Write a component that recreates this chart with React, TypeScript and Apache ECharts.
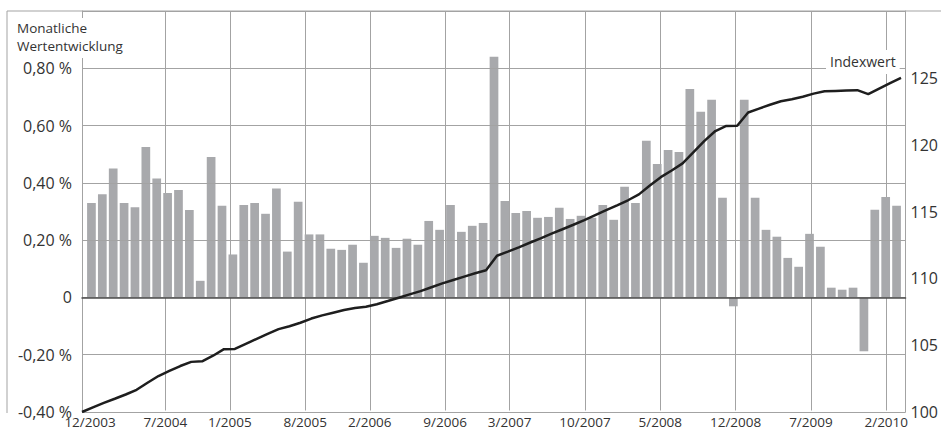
import React, { useEffect, useRef } from "react";
import * as echarts from "echarts";

// Month-end labels from 12/2003 to 3/2010 (76 month ends)
function buildMonths(startMonth: number, startYear: number, count: number): string[] {
  const out: string[] = [];
  let m = startMonth;
  let y = startYear;
  for (let i = 0; i < count; i++) {
    out.push(`${m}/${y}`);
    m += 1;
    if (m > 12) {
      m = 1;
      y += 1;
    }
  }
  return out;
}

const MONTHS = buildMonths(12, 2003, 76);
const BAR_MONTHS = MONTHS.slice(1); // 1/2004 .. 3/2010

const TICK_LABELS = [
  "12/2003", "7/2004", "1/2005", "8/2005", "2/2006", "9/2006",
  "3/2007", "10/2007", "5/2008", "12/2008", "7/2009", "2/2010",
];

// Monthly return in percent (1/2004 .. 3/2010)
const MONTHLY_RETURNS = [
  0.33, 0.36, 0.45, 0.33, 0.315, 0.525, 0.415, 0.365, 0.375, 0.305,
  0.058, 0.49, 0.32, 0.15, 0.323, 0.33, 0.292, 0.38, 0.16, 0.334,
  0.22, 0.22, 0.17, 0.166, 0.184, 0.121, 0.215, 0.208, 0.173, 0.205,
  0.184, 0.267, 0.236, 0.323, 0.229, 0.25, 0.26, 0.84, 0.337, 0.295,
  0.302, 0.278, 0.281, 0.313, 0.274, 0.285, 0.278, 0.323, 0.271, 0.386,
  0.33, 0.547, 0.466, 0.515, 0.508, 0.728, 0.648, 0.69, 0.348, -0.031,
  0.69, 0.348, 0.236, 0.212, 0.138, 0.107, 0.222, 0.177, 0.034, 0.027,
  0.034, -0.188, 0.306, 0.351, 0.32,
];

// Index value at month end (12/2003 .. 3/2010)
const INDEX_VALUES = [
  100.0, 100.35, 100.68, 100.99, 101.31, 101.66, 102.19, 102.69, 103.07, 103.44,
  103.75, 103.79, 104.21, 104.7, 104.72, 105.1, 105.47, 105.84, 106.2, 106.42,
  106.68, 106.99, 107.23, 107.43, 107.63, 107.78, 107.87, 108.06, 108.3, 108.55,
  108.8, 109.04, 109.33, 109.62, 109.88, 110.13, 110.38, 110.6, 111.69, 112.0,
  112.32, 112.66, 112.99, 113.34, 113.67, 114.01, 114.36, 114.73, 115.1, 115.46,
  115.84, 116.28, 116.95, 117.57, 118.07, 118.6, 119.44, 120.28, 121.02, 121.4,
  121.42, 122.41, 122.7, 122.99, 123.25, 123.4, 123.59, 123.82, 123.99, 124.02,
  124.05, 124.08, 123.78, 124.2, 124.6, 125.0,
];

const FONT = "'Open Sans', 'Noto Sans', sans-serif";
const GRID_COLOR = "#a3a3a3";
const TEXT_COLOR = "#333333";

const labelBox = (
  text: string,
  left: number,
  top: number,
  padding: number[],
  fontSize: number,
  lineHeight: number
) => ({
  text,
  left,
  top,
  padding,
  backgroundColor: "#ffffff",
  textStyle: {
    fontFamily: FONT,
    fontSize,
    fontWeight: "normal",
    color: TEXT_COLOR,
    lineHeight,
  },
});

export default function App() {
  const ref = useRef<HTMLDivElement>(null);

  useEffect(() => {
    if (!ref.current) return;
    const chart = echarts.init(ref.current, undefined, { renderer: "svg" });

    const gridBox = { top: 11, bottom: 17 };
    const option: any = {
      animation: false,
      backgroundColor: "#ffffff",
      textStyle: { fontFamily: FONT },
      title: [
        labelBox("Monatliche", 12, 18, [1, 4, 0, 5], 13.5, 18),
        labelBox("Wertentwicklung", 12, 37, [0, 4, 3, 5], 13.5, 18),
        labelBox("Indexwert", 826, 50, [3, 4, 4, 4], 14, 17),
      ],
      graphic: [
        {
          type: "line",
          shape: { x1: 7, y1: 11, x2: 941, y2: 11 },
          style: { stroke: GRID_COLOR, lineWidth: 1 },
          z: 1,
        },
        {
          type: "line",
          shape: { x1: 7, y1: 11, x2: 7, y2: 413 },
          style: { stroke: GRID_COLOR, lineWidth: 1 },
          z: 1,
        },
      ],
      grid: [
        { left: 82, right: 34, ...gridBox }, // frame + value axes
        { left: 90, right: 44, ...gridBox }, // month gridlines + labels
        { left: 86, right: 39, ...gridBox }, // bars
        { left: 82, right: 40, ...gridBox }, // index line
      ],
      xAxis: [
        {
          gridIndex: 0,
          type: "value",
          min: 0,
          max: 1,
          axisLine: {
            show: true,
            onZero: true,
            lineStyle: { color: "#4d4d4d", width: 1.5 },
          },
          axisTick: { show: false },
          axisLabel: { show: false },
          splitLine: { show: false },
          z: 4,
        },
        {
          gridIndex: 1,
          type: "category",
          data: MONTHS,
          boundaryGap: false,
          axisLine: { show: false },
          axisTick: { show: false },
          axisLabel: {
            interval: (_i: number, v: string) => TICK_LABELS.includes(v),
            margin: 6,
            fontSize: 13.5,
            lineHeight: 11,
            fontFamily: FONT,
            color: TEXT_COLOR,
          },
          splitLine: {
            show: true,
            interval: (i: number, v: string) => i > 0 && TICK_LABELS.includes(v),
            lineStyle: { color: GRID_COLOR, width: 1 },
          },
        },
        {
          gridIndex: 2,
          type: "category",
          data: BAR_MONTHS,
          boundaryGap: true,
          show: false,
        },
        {
          gridIndex: 3,
          type: "category",
          data: MONTHS,
          boundaryGap: false,
          show: false,
        },
      ],
      yAxis: [
        {
          gridIndex: 0,
          type: "value",
          position: "left",
          min: -0.4,
          max: 1.0,
          interval: 0.2,
          axisLine: { show: true, lineStyle: { color: GRID_COLOR, width: 1 } },
          axisTick: { show: false },
          axisLabel: {
            margin: 10,
            fontSize: 16,
            lineHeight: 11,
            fontFamily: FONT,
            color: TEXT_COLOR,
            formatter: (v: number) => {
              if (Math.abs(v) < 1e-9) return "0";
              if (v > 0.99) return "";
              return v.toFixed(2).replace(".", ",") + " %";
            },
          },
          splitLine: { show: true, lineStyle: { color: GRID_COLOR, width: 1 } },
          z: 3,
        },
        {
          gridIndex: 0,
          type: "value",
          position: "right",
          min: 100,
          max: 130,
          interval: 5,
          axisLine: { show: true, lineStyle: { color: GRID_COLOR, width: 1 } },
          axisTick: { show: false },
          axisLabel: {
            margin: 5,
            fontSize: 16,
            fontFamily: FONT,
            color: TEXT_COLOR,
            formatter: (v: number) => (v >= 130 ? "" : String(v)),
          },
          splitLine: { show: false },
          z: 3,
        },
        { gridIndex: 1, type: "value", min: 0, max: 1, show: false },
        { gridIndex: 2, type: "value", min: -0.4, max: 1.0, show: false },
        { gridIndex: 3, type: "value", min: 100, max: 130, show: false },
      ],
      series: [
        {
          name: "Monatliche Wertentwicklung",
          type: "bar",
          xAxisIndex: 2,
          yAxisIndex: 3,
          data: MONTHLY_RETURNS,
          barWidth: "80%",
          itemStyle: { color: "#a8a9ac" },
          z: 2,
        },
        {
          name: "Indexwert",
          type: "line",
          xAxisIndex: 3,
          yAxisIndex: 4,
          data: INDEX_VALUES,
          symbol: "none",
          lineStyle: { color: "#1e1e1e", width: 2.5 },
          z: 5,
        },
      ],
    };

    chart.setOption(option);
    return () => chart.dispose();
  }, []);

  return (
    <div
      ref={ref}
      style={{ position: "fixed", left: 0, top: 0, width: 941, height: 429 }}
    />
  );
}
